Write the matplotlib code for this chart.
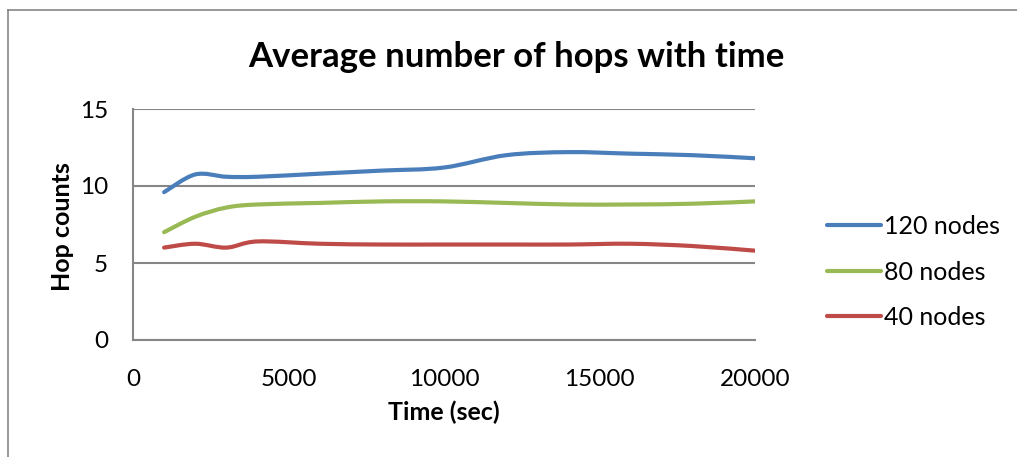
import matplotlib
matplotlib.use("Agg")
import matplotlib.pyplot as plt
from matplotlib.path import Path
from matplotlib.patches import PathPatch
from matplotlib.lines import Line2D
import numpy as np

plt.rcParams['font.family'] = ['Lato', 'DejaVu Sans']

time_sec = [1000, 2000, 3000, 4000, 6000, 8000, 10000, 12000, 14000, 16000, 18000, 20000]
hops_120 = [9.6, 10.75, 10.6, 10.6, 10.8, 11.0, 11.2, 12.0, 12.2, 12.1, 12.0, 11.8]
hops_80 = [7.0, 8.0, 8.6, 8.8, 8.9, 9.0, 9.0, 8.9, 8.8, 8.8, 8.85, 9.0]
hops_40 = [6.0, 6.25, 6.0, 6.4, 6.25, 6.2, 6.2, 6.2, 6.2, 6.25, 6.1, 5.8]
series_labels = ["120 nodes", "80 nodes", "40 nodes"]
series_colors = ["#4A7EBB", "#98B954", "#BE4B48"]

title = "Average number of hops with time"
xlabel = "Time (sec)"
ylabel = "Hop counts"
xticks = [0, 5000, 10000, 15000, 20000]
yticks = [0, 5, 10, 15]

W, H = 1017, 457
fig = plt.figure(figsize=(W / 100, H / 100), dpi=100)
ax = fig.add_axes([133 / W, 1 - 340 / H, (755 - 133) / W, (340 - 109) / H])


def smooth_path(xs, ys):
    pts = np.column_stack([xs, ys]).astype(float)
    n = len(pts)
    verts = [pts[0]]
    codes = [Path.MOVETO]
    for i in range(n - 1):
        p0 = pts[i - 1] if i > 0 else pts[i]
        p1 = pts[i]
        p2 = pts[i + 1]
        p3 = pts[i + 2] if i + 2 < n else pts[i + 1]
        c1 = p1 + (p2 - p0) / 6.0
        c2 = p2 - (p3 - p1) / 6.0
        verts += [c1, c2, p2]
        codes += [Path.CURVE4] * 3
    return Path(verts, codes)


for ys, lab, col in zip([hops_120, hops_80, hops_40], series_labels, series_colors):
    patch = PathPatch(smooth_path(time_sec, ys), facecolor='none', edgecolor=col,
                      lw=3.0, capstyle='round', joinstyle='round', zorder=3)
    ax.add_patch(patch)
    ax.plot([], [], color=col, lw=3.0, solid_capstyle='round', label=lab)

ax.set_xlim(0, 20000)
ax.set_ylim(0, 15)
ax.set_xticks(xticks)
ax.set_yticks(yticks)
ax.set_xticklabels([str(v) for v in xticks])
ax.set_yticklabels([str(v) for v in yticks])
ax.tick_params(axis='both', length=0, labelsize=17.5, colors='black')
ax.tick_params(axis='x', pad=21)
ax.tick_params(axis='y', pad=18)
ax.grid(axis='y', color='#868686', lw=1.5)
ax.set_axisbelow(True)
for s in ['top', 'right']:
    ax.spines[s].set_visible(False)
for s in ['left', 'bottom']:
    ax.spines[s].set_color('#868686')
    ax.spines[s].set_linewidth(1.5)

fig.text(516 / W, 1 - 57 / H, title, ha='center', va='center', fontsize=25, fontweight='bold')
fig.text(444 / W, 1 - 412 / H, xlabel, ha='center', va='center', fontsize=18, fontweight='bold')
fig.text(62 / W, 1 - 227 / H, ylabel, ha='center', va='center', fontsize=18, fontweight='bold', rotation=90)

leg = ax.legend(loc='center left', bbox_to_anchor=(827 / W, 1 - 272 / H), bbox_transform=fig.transFigure,
                frameon=False, fontsize=18, handlelength=2.15, handletextpad=0.12, labelspacing=0.9,
                borderaxespad=0, borderpad=0)

fig.add_artist(Line2D([8 / W, 8 / W], [0, 1 - 10 / H], transform=fig.transFigure, color='#868686', lw=1.2))
fig.add_artist(Line2D([8 / W, 1], [1 - 10 / H, 1 - 10 / H], transform=fig.transFigure, color='#868686', lw=1.2))

fig.savefig("out.png", dpi=100)
